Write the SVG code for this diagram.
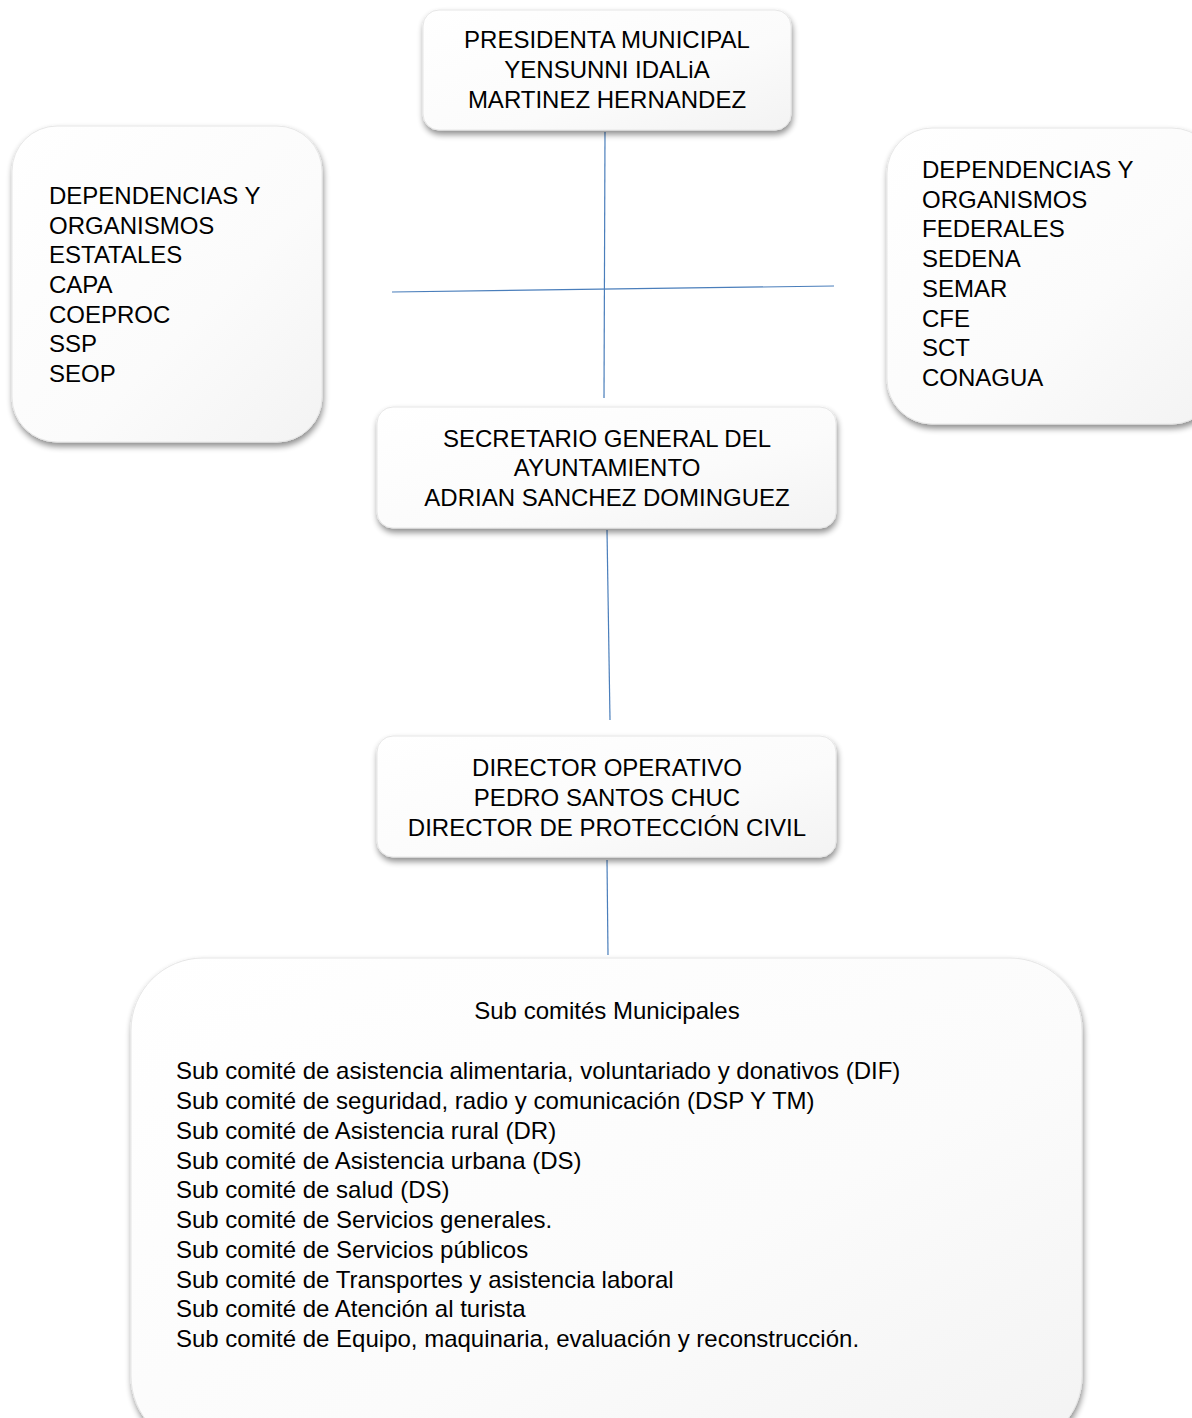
<svg xmlns="http://www.w3.org/2000/svg" width="1192" height="1418" viewBox="0 0 1192 1418">
<defs>
<style>
text{font-family:"Liberation Sans",Arial,sans-serif;font-size:24px;fill:#000}
.c{text-anchor:middle}
.box{fill:url(#g);stroke:#e6e6e6;stroke-width:1;filter:url(#sh)}
.ln{stroke:#4a7ebb;stroke-width:1.2;fill:none}
</style>
<linearGradient id="g" x1="0" y1="0" x2="1" y2="1">
<stop offset="0" stop-color="#ffffff"/>
<stop offset="0.6" stop-color="#fbfbfb"/>
<stop offset="1" stop-color="#f3f3f3"/>
</linearGradient>
<filter id="sh" x="-10%" y="-10%" width="125%" height="130%">
<feGaussianBlur in="SourceAlpha" stdDeviation="3"/>
<feOffset dx="1" dy="4" result="b"/>
<feComponentTransfer><feFuncA type="linear" slope="0.45"/></feComponentTransfer>
<feMerge><feMergeNode/><feMergeNode in="SourceGraphic"/></feMerge>
</filter>
</defs>
<rect width="1192" height="1418" fill="#fff"/>
<g id="connectors">
<line class="ln" x1="605" y1="132" x2="604" y2="398"/>
<line class="ln" x1="392" y1="292" x2="834" y2="286"/>
<line class="ln" x1="607" y1="530" x2="610" y2="720"/>
<line class="ln" x1="607" y1="860" x2="608" y2="955"/>
</g>
<g id="presidenta">
<rect class="box" x="423" y="10" width="368" height="120" rx="16"/>
<text class="c" x="607" y="48">PRESIDENTA MUNICIPAL</text>
<text class="c" x="607" y="78">YENSUNNI IDALiA</text>
<text class="c" x="607" y="108">MARTINEZ HERNANDEZ</text>
</g>
<g id="estatales">
<rect class="box" x="12" y="126" width="310" height="316" rx="45"/>
<text x="49" y="204">DEPENDENCIAS Y</text>
<text x="49" y="234">ORGANISMOS</text>
<text x="49" y="263">ESTATALES</text>
<text x="49" y="293">CAPA</text>
<text x="49" y="323">COEPROC</text>
<text x="49" y="352">SSP</text>
<text x="49" y="382">SEOP</text>
</g>
<g id="federales">
<rect class="box" x="887" y="128" width="330" height="296" rx="45"/>
<text x="922" y="178">DEPENDENCIAS Y</text>
<text x="922" y="208">ORGANISMOS</text>
<text x="922" y="237">FEDERALES</text>
<text x="922" y="267">SEDENA</text>
<text x="922" y="297">SEMAR</text>
<text x="922" y="327">CFE</text>
<text x="922" y="356">SCT</text>
<text x="922" y="386">CONAGUA</text>
</g>
<g id="secretario">
<rect class="box" x="377" y="407" width="459" height="121" rx="16"/>
<text class="c" x="607" y="447">SECRETARIO GENERAL DEL</text>
<text class="c" x="607" y="476">AYUNTAMIENTO</text>
<text class="c" x="607" y="506">ADRIAN SANCHEZ DOMINGUEZ</text>
</g>
<g id="director">
<rect class="box" x="377" y="736" width="459" height="121" rx="16"/>
<text class="c" x="607" y="776">DIRECTOR OPERATIVO</text>
<text class="c" x="607" y="806">PEDRO SANTOS CHUC</text>
<text class="c" x="607" y="836">DIRECTOR DE PROTECCIÓN CIVIL</text>
</g>
<g id="subcomites">
<rect class="box" x="131" y="958" width="951" height="490" rx="72"/>
<text class="c" x="607" y="1019">Sub comités Municipales</text>
<text x="176" y="1079">Sub comité de asistencia alimentaria, voluntariado y donativos (DIF)</text>
<text x="176" y="1109">Sub comité de seguridad, radio y comunicación (DSP Y TM)</text>
<text x="176" y="1139">Sub comité de Asistencia rural (DR)</text>
<text x="176" y="1169">Sub comité de Asistencia urbana (DS)</text>
<text x="176" y="1198">Sub comité de salud (DS)</text>
<text x="176" y="1228">Sub comité de Servicios generales.</text>
<text x="176" y="1258">Sub comité de Servicios públicos</text>
<text x="176" y="1288">Sub comité de Transportes y asistencia laboral</text>
<text x="176" y="1317">Sub comité de Atención al turista</text>
<text x="176" y="1347">Sub comité de Equipo, maquinaria, evaluación y reconstrucción.</text>
</g>
</svg>
